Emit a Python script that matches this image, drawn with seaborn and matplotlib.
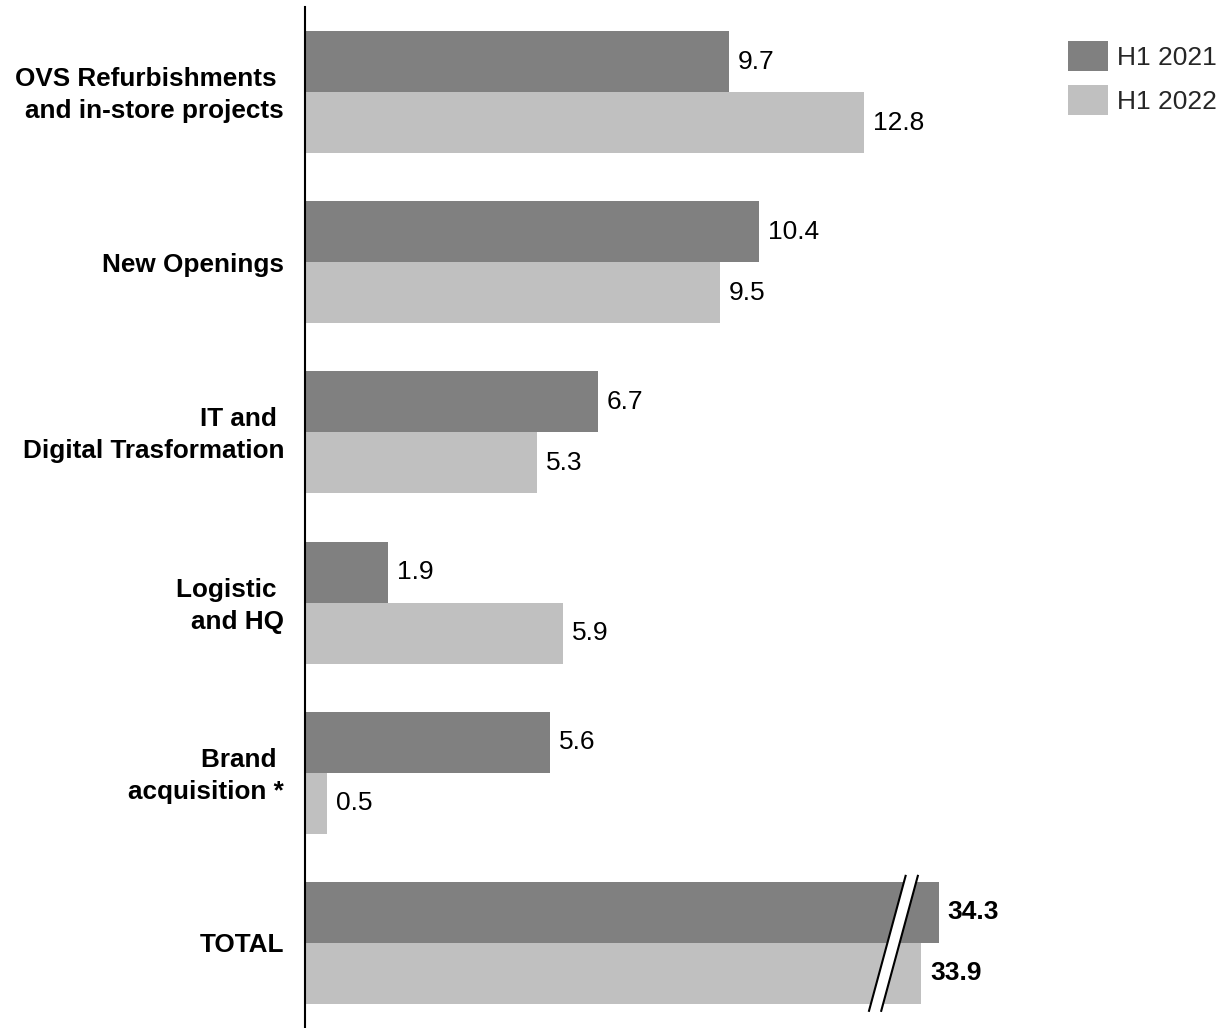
import matplotlib
matplotlib.use("Agg")
import matplotlib.pyplot as plt
import matplotlib.transforms as mtransforms
import seaborn as sns
import pandas as pd
from matplotlib.patches import Polygon, Patch

categories = ["OVS Refurbishments \nand in-store projects", "New Openings",
              "IT and \nDigital Trasformation", "Logistic \nand HQ",
              "Brand \nacquisition *", "TOTAL"]
h1_2021 = [9.7, 10.4, 6.7, 1.9, 5.6, 34.3]
h1_2022 = [12.8, 9.5, 5.3, 5.9, 0.5, 33.9]
series = ["H1 2021", "H1 2022"]
colors = ["#808080", "#C0C0C0"]
total_break_offset = 19.8  # axis break applied to the TOTAL bars

sns.set_theme(style="white")
plt.rcParams['font.family'] = ['Liberation Sans', 'DejaVu Sans']

rows = []
for s, vals in zip(series, [h1_2021, h1_2022]):
    for c, v in zip(categories, vals):
        shown = v - total_break_offset if c == "TOTAL" else v
        rows.append({"category": c, "series": s, "value": v, "shown": shown})
df = pd.DataFrame(rows)

fig = plt.figure(figsize=(12.27, 10.28), dpi=100)
px = 43.7
ax = fig.add_axes([305 / 1227, 0, 922 / 1227, 1 - 7 / 1028])
sns.barplot(data=df, y="category", x="shown", hue="series", order=categories,
            hue_order=series, palette=colors, width=0.716, orient="h", ax=ax,
            linewidth=0, saturation=1)
ax.set_xlim(0, 922 / px)
ax.set_ylim(5.5, -0.5)

# value labels
for cont, vals in zip(ax.containers, [h1_2021, h1_2022]):
    for bar, cat, v in zip(cont, categories, vals):
        w = bar.get_width()
        yc = bar.get_y() + bar.get_height() / 2
        ax.text(w + 9 / px, yc, f"{v:.1f}", ha="left", va="center",
                fontsize=19, fontweight="bold" if cat == "TOTAL" else "normal",
                color="black")

# axis break marks on TOTAL
y_top, y_bot = 4.6, 5.405
poly = Polygon([(13.75, y_top), (14.03, y_top), (13.18, y_bot), (12.9, y_bot)],
               closed=True, facecolor="white", edgecolor="none", zorder=5)
ax.add_patch(poly)
ax.plot([13.75, 12.9], [y_top, y_bot], color="black", lw=1.5, zorder=6, solid_capstyle="butt")
ax.plot([14.03, 13.18], [y_top, y_bot], color="black", lw=1.5, zorder=6, solid_capstyle="butt")

for sp in ["top", "right", "bottom"]:
    ax.spines[sp].set_visible(False)
ax.spines["left"].set_color("black")
ax.spines["left"].set_linewidth(1.5)
ax.set_xticks([])
ax.set_xlabel("")
ax.set_ylabel("")
ax.tick_params(axis="y", length=0, pad=15)
shift_up = mtransforms.ScaledTranslation(0, 3.5 / 100, fig.dpi_scale_trans)
for lab in ax.get_yticklabels():
    lab.set_fontweight("bold")
    lab.set_fontsize(18.8)
    lab.set_linespacing(1.42)
    lab.set_horizontalalignment("right")
    lab.set_color("black")
    if "\n" in lab.get_text():
        lab.set_transform(lab.get_transform() + shift_up)

handles = [Patch(facecolor=c, edgecolor="none") for c in colors]
ax.legend(handles, series, loc="upper left",
          bbox_to_anchor=(1068 / 1227, 1 - 41 / 1028), bbox_transform=fig.transFigure,
          frameon=False, fontsize=19, handlelength=1.5, handleheight=1.372,
          handletextpad=0.34, labelspacing=0.53, borderpad=0, borderaxespad=0)

fig.savefig("out.png", dpi=100)
